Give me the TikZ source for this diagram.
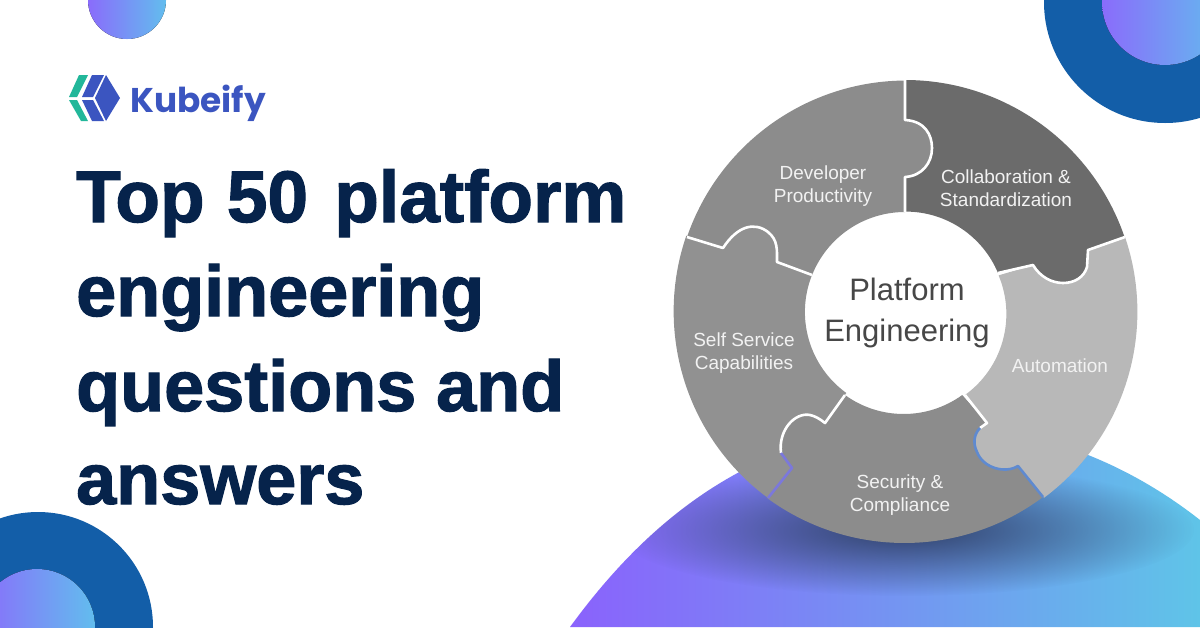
\documentclass[tikz,border=0pt]{standalone}
\usepackage{fontspec}
\usetikzlibrary{fadings}
\setmainfont{Liberation Sans}
\newfontfamily\titlefont[UprightFont=* Bold,FakeBold=1.6]{Liberation Sans}
\newfontfamily\logofont[UprightFont=* Bold]{Poppins}
\definecolor{navy}{HTML}{06234B}
\definecolor{deepblue}{HTML}{135EA8}
\definecolor{gradpurple}{HTML}{8A6CFB}
\definecolor{gradblue}{HTML}{62BDEE}
\definecolor{hillleft}{HTML}{8A62FC}
\definecolor{hillmid}{HTML}{7C88F4}
\definecolor{hillright}{HTML}{5FC4E8}
\definecolor{hillshadow}{HTML}{2A3A5E}
\definecolor{logoblue}{HTML}{3B55C0}
\definecolor{logogreen}{HTML}{22B79A}
\definecolor{ringtext}{HTML}{F2F2F2}
\definecolor{midtext}{HTML}{474747}
\definecolor{seamright}{HTML}{5F8AD0}
\definecolor{seamleft}{HTML}{7B78DC}
\tikzset{
  titleline/.style={anchor=base west,inner sep=0pt,text=navy,font=\titlefont\fontsize{72}{72}\selectfont},
  ringlabel/.style={align=center,text=ringtext,font=\fontsize{19}{23.5}\selectfont},
  piece/.style={line width=0pt},
  seamline/.style={draw=white,line width=2.6pt,line join=round},
  seamblue/.style={draw=#1,line width=2.6pt,line join=round},
  gradcircle/.style={left color=gradpurple,right color=gradblue},
}
\tikzfading[name=softblob,inner color=transparent!8,outer color=transparent!100]
\begin{document}
\begin{tikzpicture}[x=1pt,y=1pt,yscale=-1]
\useasboundingbox (0,0) rectangle (1200,627);
\fill[white] (0,0) rectangle (1200,627);
% corner decorations
\fill[gradcircle] (127,0) circle[radius=39];
\fill[deepblue] (1165,2) circle[radius=121];
\fill[gradcircle] (1165,2) circle[radius=63];
\fill[deepblue] (38,627) circle[radius=115];
\fill[gradcircle] (37,627) circle[radius=58];
% hill
\begin{scope}
\clip (570,627) .. controls (630,545) and (740,425) .. (930,425) .. controls (1040,425) and (1130,465) .. (1200,520) -- (1200,627) -- cycle;
\shade[left color=hillleft,middle color=hillmid,right color=hillright] (570,420) rectangle (1200,627);
\fill[hillshadow,path fading=softblob] (905,530) ellipse[x radius=290,y radius=66];
\end{scope}
% ring pieces
\fill[piece,fill=black!45] (905,80) -- (905,120) .. controls (925,121) and (932,135) .. (932,148) .. controls (932,163) and (922,176) .. (905,177) -- (905,212)
   arc[start angle=-90,end angle=-158.3,radius=100]
   -- (777,262) .. controls (777,250) and (778,240) .. (768,232) .. controls (755,222) and (738,225) .. (723,248)
   -- (687,237) arc[start angle=-161,end angle=-90,radius=232] -- cycle;
\fill[piece,fill=black!58] (905,80) arc[start angle=-90,end angle=-18.8,radius=232]
   -- (1088,250) -- (1087,267) .. controls (1084,277) and (1075,283) .. (1063,283) .. controls (1052,283) and (1040,277) .. (1033,265)
   -- (998,273) arc[start angle=-22.7,end angle=-90,radius=100]
   -- (905,177) .. controls (922,176) and (932,163) .. (932,148) .. controls (932,135) and (925,121) .. (905,120) -- cycle;
\fill[piece,fill=black!28] (1125,237) arc[start angle=-18.8,end angle=53.3,radius=232]
   -- (1018,466) .. controls (1005,474) and (983,468) .. (977,452) .. controls (972,442) and (975,433) .. (980,428) -- (987,423) -- (965,395)
   arc[start angle=54.1,end angle=-22.7,radius=100] -- (1033,265) .. controls (1040,277) and (1052,283) .. (1063,283) .. controls (1075,283) and (1084,277) .. (1087,267) -- (1088,250) -- cycle;
\fill[piece,fill=black!45] (1043,497) arc[start angle=53.3,end angle=126.4,radius=232]
   -- (792,468) -- (781,453) .. controls (778,430) and (795,412) .. (810,415) .. controls (815,416) and (820,419) .. (825,423) -- (845,395)
   arc[start angle=125.9,end angle=54.1,radius=100] -- (987,423) -- (980,428) .. controls (975,433) and (972,442) .. (977,452) .. controls (983,468) and (1005,474) .. (1018,466) -- cycle;
\fill[piece,fill=black!43] (768,498) arc[start angle=126.4,end angle=199,radius=232]
   -- (723,248) .. controls (738,225) and (755,222) .. (768,232) .. controls (778,240) and (777,250) .. (777,262) -- (812,275)
   arc[start angle=201.7,end angle=125.9,radius=100]
   -- (825,423) .. controls (820,419) and (815,416) .. (810,415) .. controls (795,412) and (778,430) .. (781,453) -- (792,468) -- cycle;
% seams
\draw[seamline] (905,80) -- (905,120) .. controls (925,121) and (932,135) .. (932,148) .. controls (932,163) and (922,176) .. (905,177) -- (905,212);
\draw[seamline] (1125,237) -- (1088,250) -- (1087,267) .. controls (1084,277) and (1075,283) .. (1063,283) .. controls (1052,283) and (1040,277) .. (1033,265) -- (998,273);
\draw[seamline] (687,237) -- (723,248) .. controls (738,225) and (755,222) .. (768,232) .. controls (778,240) and (777,250) .. (777,262) -- (812,275);
\draw[seamline] (965,395) -- (987,423) -- (980,428);
\draw[seamline] (845,395) -- (825,423) .. controls (820,419) and (815,416) .. (810,415) .. controls (795,412) and (778,430) .. (781,453);
\draw[seamblue=seamright] (980,428) .. controls (975,433) and (972,442) .. (977,452) .. controls (983,468) and (1005,474) .. (1018,466) -- (1043,497);
\draw[seamblue=seamleft] (781,453) -- (792,468) -- (768,498);
% labels
\node[ringlabel] (dev) at (823,186) {Developer\\Productivity};
\node[ringlabel] (col) at (1006,188) {Collaboration \&\\Standardization};
\node[ringlabel] (aut) at (1060,366) {Automation};
\node[ringlabel] (sel) at (744,353) {Self Service\\Capabilities};
\node[ringlabel] (sec) at (900,495) {Security \&\\Compliance};
\node[align=center,text=midtext,font=\fontsize{31}{41}\selectfont] (mid) at (907,313) {Platform\\Engineering};
% logo
\fill[logogreen] (79,75) -- (88,75) -- (77,97) -- (69,97) -- cycle;
\fill[logogreen] (69,100) -- (77,100) -- (88,121) -- (81,121) -- cycle;
\fill[logoblue] (92,75) -- (104,75) -- (93,97) -- (82,97) -- cycle;
\fill[logoblue] (82,100) -- (93,100) -- (104,121) -- (92,121) -- cycle;
\fill[logoblue] (106,75) -- (120,98) -- (106,121) -- (95,98) -- cycle;
\node[anchor=base west,inner sep=0pt,text=logoblue,font=\logofont\fontsize{34.3}{34.3}\selectfont] (logo) at (130,112) {Kubeify};
% title
\node[titleline,font=\titlefont\fontsize{73}{73}\selectfont] (t1) at (76,222) {Top\hspace{2pt} 50\hspace{6pt} platform};
\node[titleline] (t2) at (76,316) {engineering};
\node[titleline] (t3) at (76,411) {questions and};
\node[titleline] (t4) at (76,504) {answers};
\end{tikzpicture}
\end{document}
